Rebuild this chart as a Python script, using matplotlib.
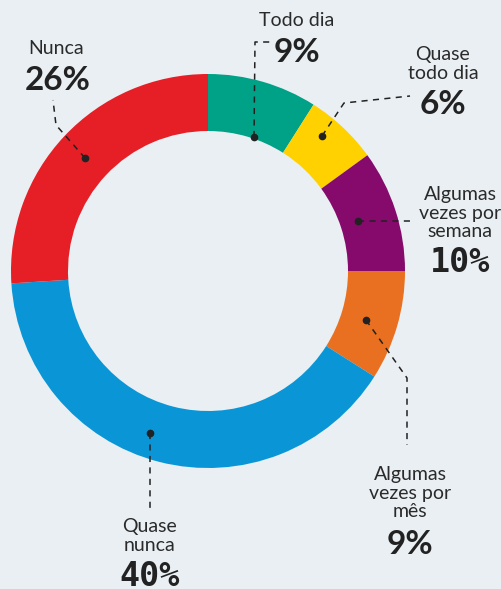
import matplotlib.pyplot as plt

# dados do gráfico (sentido horário a partir do topo)
categorias = ['Todo dia', 'Quase\ntodo dia', 'Algumas\nvezes por\nsemana',
              'Algumas\nvezes por\nmês', 'Quase\nnunca', 'Nunca']
valores = [9, 6, 10, 9, 40, 26]
cores = ['#00a287', '#ffd100', '#850a6b', '#e87020', '#0a96d6', '#e61e26']
rotulos_pct = ['9%', '6%', '10%', '9%', '40%', '26%']

W, H = 502, 589
fundo = '#e9eff2'

fig = plt.figure(figsize=(W / 100, H / 100), dpi=100, facecolor=fundo)
ax = fig.add_axes([0, 0, 1, 1])

cx, cy, raio = 208, H - 271, 197
ax.pie(valores, colors=cores, startangle=90, counterclock=False,
       center=(cx, cy), radius=raio, frame=True,
       wedgeprops=dict(width=57, linewidth=0))
ax.set_xlim(0, W)
ax.set_ylim(0, H)
ax.set_aspect('equal')
ax.axis('off')


def py(y):
    # converte coordenada em pixel (topo) para coordenada do eixo
    return H - y


# linhas de chamada: pontos em coordenadas de pixel
linhas = [
    [(254, 137), (255, 42), (272, 42)],
    [(322, 136), (344, 103), (410, 96)],
    [(358, 221), (410, 221)],
    [(366, 320), (407, 378), (407, 445)],
    [(150, 433), (150, 510)],
    [(85, 158), (56, 125), (53, 100)],
]
for pts in linhas:
    xs = [p[0] for p in pts]
    ys = [py(p[1]) for p in pts]
    ax.plot(xs, ys, color='#222222', lw=1.1, ls=(0, (4, 3.5)))
    ax.plot(xs[0], ys[0], 'o', color='#222222', ms=4.5)

# posições dos textos (centro do rótulo, centro do percentual)
pos_rotulo = [(297, 20), (443, 64), (460, 213), (410, 493), (150, 536), (56, 49)]
pos_pct = [(297, 52), (443, 104), (460, 262), (410, 544), (150, 576), (58, 80)]

fonte = ['Lato', 'DejaVu Sans']
for cat, pct, (lx, ly), (px_, pyy) in zip(categorias, rotulos_pct, pos_rotulo, pos_pct):
    ax.text(lx, py(ly), cat, ha='center', va='center', fontsize=14,
            family=fonte, weight='normal', color='#2a2a2a', linespacing=1.13)
    if '0' in pct:
        fam = 'DejaVu Sans Mono'
    else:
        fam = fonte
    ax.text(px_, py(pyy), pct, ha='center', va='center', fontsize=24,
            family=fam, weight='bold', color='#222222')

fig.savefig('out.png', dpi=100, facecolor=fundo)
